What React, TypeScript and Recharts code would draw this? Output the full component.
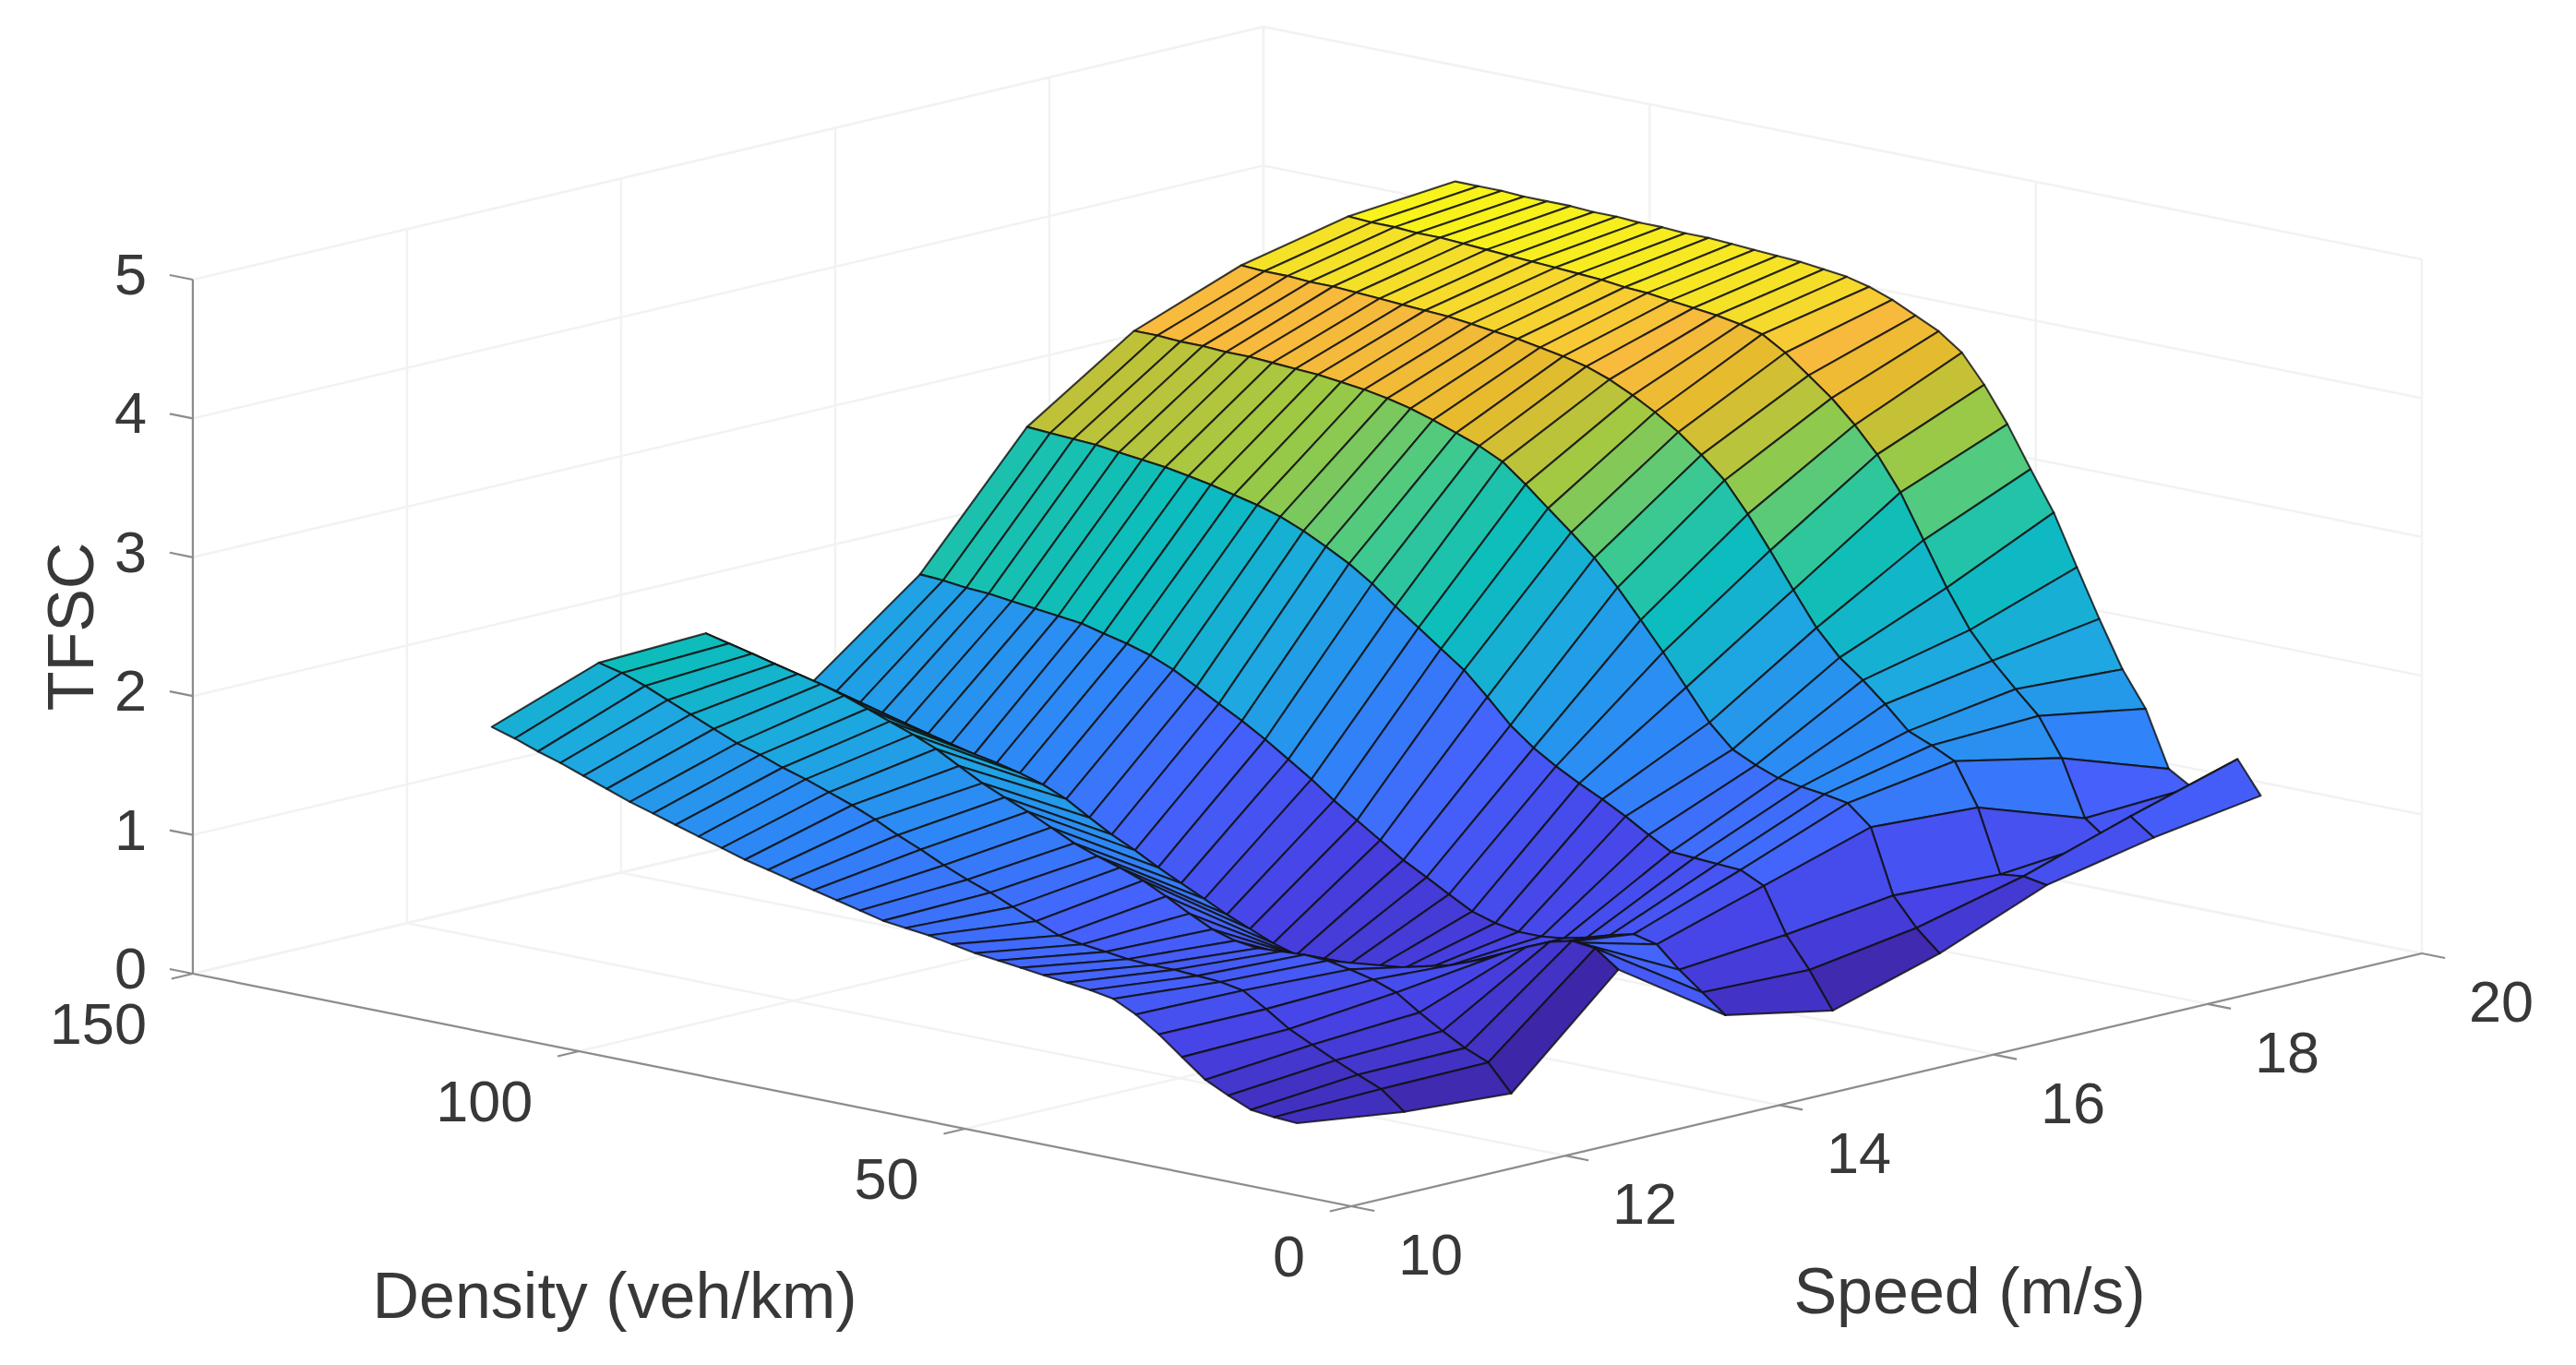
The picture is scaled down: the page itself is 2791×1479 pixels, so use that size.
import React from "react";
import { ScatterChart, Scatter, XAxis, YAxis } from "recharts";

const W = 2791;
const H = 1479;

// grid of the surface
const densityValues = [7, 10, 13, 15.9, 18.9, 21.9, 24.9, 27.9, 30.8, 33.8, 36.8, 39.8, 42.8, 45.7, 48.7, 51.7, 54.7, 57.7, 60.6, 63.6, 66.6, 69.6, 72.6, 75.5, 78.5, 81.5, 84.5, 87.5, 90.4, 93.4, 96.4, 99.4, 102.4, 105.3, 108.3, 111.3];
const speedValues = [10, 11, 12, 13, 14, 15, 16, 17, 18, 19];

const tfscSpeed10 = [0.52, 0.53, 0.55, 0.62, 0.70, 0.83, 0.96, 1.07, 1.15, 1.18, 1.20, 1.22, 1.24, 1.26, 1.28, 1.31, 1.34, 1.36, 1.38, 1.42, 1.46, 1.50, 1.54, 1.58, 1.62, 1.67, 1.72, 1.77, 1.82, 1.87, 1.93, 1.99, 2.05, 2.10, 2.16, 2.21];
const tfscSpeed11 = [0.42, 0.55, 0.62, 0.69, 0.77, 0.85, 0.96, 1.06, 1.09, 1.10, 1.11, 1.11, 1.12, 1.14, 1.16, 1.19, 1.26, 1.33, 1.40, 1.46, 1.53, 1.61, 1.68, 1.76, 1.83, 1.89, 1.95, 2.00, 2.06, 2.11, 2.18, 2.25, 2.32, 2.39, 2.45, 2.49];
const tfscSpeed12 = [0.37, 0.56, 0.63, 0.72, 0.82, 0.93, 0.99, 1.03, 1.06, 1.07, 1.06, 1.05, 1.07, 1.12, 1.20, 1.29, 1.37, 1.43, 1.48, 1.54, 1.62, 1.70, 1.77, 1.84, 1.93, 2.02, 2.09, 2.15, 2.21, 2.27, 2.32, 2.36, 2.40, 2.44, 2.48, 2.52];
const tfscSpeed13 = [1.08, 1.2, 1.22, 1.18, 1.11, 1.03, 0.95, 0.88, 0.81, 0.74, 0.70, 0.68, 0.68, 0.70, 0.72, 0.77, 0.84, 0.91, 0.99, 1.07, 1.15, 1.24, 1.32, 1.41, 1.51, 1.58, 1.63, 1.67, 1.70, 1.74, 1.78, 1.82, 1.86, 1.90, 1.95, 1.99];
const tfscSpeed14 = [0.57, 0.70, 0.83, 0.98, 1.02, 0.98, 0.93, 0.89, 0.87, 0.87, 0.90, 0.95, 1.04, 1.13, 1.22, 1.33, 1.44, 1.55, 1.67, 1.78, 1.89, 1.99, 2.08, 2.17, 2.26, 2.33, 2.38, 2.42, 2.46, 2.48, 2.50, 2.52, 2.54, 2.55, 2.57, 2.58];
const tfscSpeed15 = [0.42, 0.68, 0.90, 1.22, 1.30, 1.31, 1.32, 1.33, 1.42, 1.52, 1.61, 1.69, 1.78, 1.88, 2.01, 2.18, 2.34, 2.46, 2.58, 2.70, 2.83, 2.94, 3.03, 3.11, 3.18, 3.23, 3.27, 3.31, 3.34, 3.37, 3.39, 3.41, 3.43, 3.44, 3.45, 3.46];
const tfscSpeed16 = [0.65, 0.80, 1.00, 1.46, 1.60, 1.63, 1.65, 1.68, 1.74, 1.82, 1.98, 2.20, 2.42, 2.62, 2.82, 3.00, 3.15, 3.29, 3.43, 3.56, 3.64, 3.70, 3.76, 3.81, 3.85, 3.88, 3.90, 3.92, 3.93, 3.94, 3.95, 3.95, 3.96, 3.96, 3.97, 3.97];
const tfscSpeed17 = [0.96, 0.99, 0.97, 1.42, 1.72, 1.80, 1.87, 2.03, 2.17, 2.30, 2.48, 2.72, 2.97, 3.20, 3.41, 3.56, 3.69, 3.80, 3.89, 3.97, 4.03, 4.07, 4.10, 4.13, 4.15, 4.17, 4.19, 4.20, 4.21, 4.22, 4.23, 4.24, 4.24, 4.25, 4.25, 4.26];
const tfscSpeed18 = [1.12, 1.24, 1.04, 1.16, 1.56, 1.83, 1.99, 2.16, 2.35, 2.62, 2.93, 3.24, 3.48, 3.66, 3.82, 3.95, 4.08, 4.18, 4.22, 4.25, 4.27, 4.29, 4.31, 4.32, 4.34, 4.35, 4.36, 4.37, 4.38, 4.39, 4.40, 4.41, 4.41, 4.42, 4.42, 4.43];
const tfscSpeed19 = [1.24, 1.47, 1.25, 1.20, 1.30, 1.70, 1.95, 2.28, 2.62, 2.98, 3.26, 3.55, 3.80, 4.00, 4.12, 4.20, 4.28, 4.34, 4.38, 4.40, 4.42, 4.43, 4.44, 4.45, 4.46, 4.46, 4.47, 4.47, 4.48, 4.48, 4.49, 4.49, 4.49, 4.50, 4.50, 4.50];

const tfscRows = [tfscSpeed10, tfscSpeed11, tfscSpeed12, tfscSpeed13, tfscSpeed14, tfscSpeed15, tfscSpeed16, tfscSpeed17, tfscSpeed18, tfscSpeed19];

const densityTicks = [0, 50, 100, 150];
const speedTicks = [10, 12, 14, 16, 18, 20];
const tfscTicks = [0, 1, 2, 3, 4, 5];

// parula entries, the warm end nudged to what the picture shows
const colorPositions = [0, 0.1, 0.2, 0.3, 0.4, 0.5, 0.6, 0.7, 0.8, 0.87, 0.94, 1];
const parula = [
  [0.2422, 0.1504, 0.6603],
  [0.2783, 0.2559, 0.8991],
  [0.2699, 0.3892, 0.9906],
  [0.1786, 0.5289, 0.9682],
  [0.1113, 0.6635, 0.8763],
  [0.0433, 0.7411, 0.7394],
  [0.2470, 0.7918, 0.5567],
  [0.6174, 0.7876, 0.2612],
  [0.9035, 0.7330, 0.1774],
  [0.9728, 0.7298, 0.2394],
  [0.9610, 0.8890, 0.1537],
  [0.9769, 0.9839, 0.0805],
];
const C_MIN = 0.37;
const C_MAX = 4.5;

function parulaColor(z: number) {
  const t = Math.min(1, Math.max(0, (z - C_MIN) / (C_MAX - C_MIN)));
  let i = 0;
  while (i < colorPositions.length - 2 && t > colorPositions[i + 1]) i++;
  const f = (t - colorPositions[i]) / (colorPositions[i + 1] - colorPositions[i]);
  const c = parula[i].map((v, k) => Math.round(255 * (v + (parula[i + 1][k] - v) * f)));
  return `rgb(${c[0]},${c[1]},${c[2]})`;
}

// orthographic view of the 3D box, the chart's axes run 1:1 with the picture
function project(d: number, s: number, z: number) {
  return {
    x: 1464 - 8.367 * d + 116 * (s - 10),
    y: 1307 - 1.68 * d - 27.4 * (s - 10) - 150.4 * z,
  };
}

// back cells first so the front ones paint over them
const cells: any[] = [];
for (let si = speedValues.length - 2; si >= 0; si--) {
  for (let di = densityValues.length - 2; di >= 0; di--) {
    const a = project(densityValues[di], speedValues[si], tfscRows[si][di]);
    const b = project(densityValues[di + 1], speedValues[si], tfscRows[si][di + 1]);
    const c = project(densityValues[di + 1], speedValues[si + 1], tfscRows[si + 1][di + 1]);
    const e = project(densityValues[di], speedValues[si + 1], tfscRows[si + 1][di]);
    cells.push({
      x: a.x,
      y: a.y,
      offsets: [b, c, e].map((p) => [p.x - a.x, p.y - a.y]),
      fill: parulaColor(tfscRows[si][di]),
    });
  }
}

function Cell(props: any) {
  const { cx, cy, payload } = props;
  const pts = [[0, 0], ...payload.offsets].map((o: number[]) => `${cx + o[0]},${cy + o[1]}`).join(" ");
  return <polygon points={pts} fill={payload.fill} stroke="#101010" strokeOpacity={0.82} strokeWidth={2.1} strokeLinejoin="round" />;
}

function Label(props: any) {
  const { cx, cy, payload } = props;
  return (
    <text
      x={cx + payload.dx}
      y={cy + payload.dy}
      textAnchor={payload.anchor}
      dominantBaseline="central"
      fontFamily="Liberation Sans"
      fontSize={payload.size}
      fill="#383838"
      transform={payload.rotate ? `rotate(${payload.rotate} ${cx + payload.dx} ${cy + payload.dy})` : undefined}
    >
      {payload.text}
    </text>
  );
}

const noDot = () => null;

const GRID = "#f2f2f2";
const AXIS = "#8c8c8c";

const gridSegments: any[][] = [];
tfscTicks.forEach((z) => {
  gridSegments.push([project(150, 10, z), project(150, 20, z)]);
  gridSegments.push([project(150, 20, z), project(0, 20, z)]);
});
speedTicks.forEach((s) => {
  gridSegments.push([project(150, s, 0), project(150, s, 5)]);
  gridSegments.push([project(0, s, 0), project(150, s, 0)]);
});
densityTicks.forEach((d) => {
  gridSegments.push([project(d, 20, 0), project(d, 20, 5)]);
  gridSegments.push([project(d, 10, 0), project(d, 20, 0)]);
});

const axisSegments: any[][] = [
  [project(0, 10, 0), project(150, 10, 0)],
  [project(0, 10, 0), project(0, 20, 0)],
  [project(150, 10, 0), project(150, 10, 5)],
];
densityTicks.forEach((d) => axisSegments.push([project(d, 10, 0), project(d, 9.8, 0)]));
speedTicks.forEach((s) => axisSegments.push([project(0, s, 0), project(-3, s, 0)]));
tfscTicks.forEach((z) => axisSegments.push([project(150, 10, z), project(153, 10, z)]));

const labels = [
  ...densityTicks.map((d) => ({ ...project(d, 10, 0), text: String(d), dx: -50, dy: 54, anchor: "end", size: 63 })),
  ...speedTicks.map((s) => ({ ...project(0, s, 0), text: String(s), dx: 86, dy: 52, anchor: "middle", size: 63 })),
  ...tfscTicks.map((z) => ({ ...project(150, 10, z), text: String(z), dx: -50, dy: -6, anchor: "end", size: 63 })),
  { ...project(60, 10, 0), text: "Density (veh/km)", dx: -296, dy: 198, anchor: "middle", size: 70 },
  { ...project(0, 15, 0), text: "Speed (m/s)", dx: 90, dy: 229, anchor: "middle", size: 70 },
  { ...project(150, 10, 2.5), text: "TFSC", dx: -132, dy: 0, anchor: "middle", size: 70, rotate: -90 },
];

export default function App() {
  return (
    <div style={{ position: "absolute", left: 0, top: 0, width: W, height: H, background: "#fff" }}>
      <ScatterChart width={W} height={H} margin={{ top: 0, right: 0, bottom: 0, left: 0 }}>
        <XAxis type="number" dataKey="x" domain={[0, W]} hide allowDataOverflow />
        <YAxis type="number" dataKey="y" domain={[0, H]} reversed hide allowDataOverflow />
        {gridSegments.map((seg, i) => (
          <Scatter key={`g${i}`} data={seg} line={{ stroke: GRID, strokeWidth: 2.5 }} shape={noDot} isAnimationActive={false} />
        ))}
        {axisSegments.map((seg, i) => (
          <Scatter key={`a${i}`} data={seg} line={{ stroke: AXIS, strokeWidth: 2.2 }} shape={noDot} isAnimationActive={false} />
        ))}
        <Scatter data={cells} shape={Cell} isAnimationActive={false} />
        <Scatter data={labels} shape={Label} isAnimationActive={false} />
      </ScatterChart>
    </div>
  );
}
